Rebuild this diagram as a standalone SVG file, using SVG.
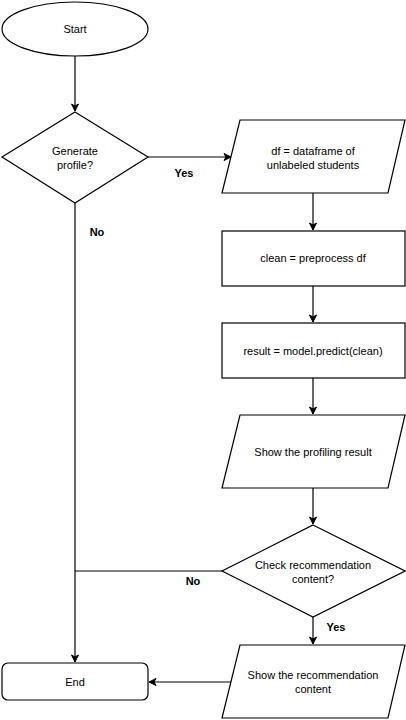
<svg xmlns="http://www.w3.org/2000/svg" width="406" height="720" viewBox="0 0 406 720">
<style>
.s{fill:#fff;stroke:#000;stroke-width:1.2}
.t{font-family:"Liberation Sans",Arial,sans-serif;font-size:11px;fill:#000;text-anchor:middle}
.b{font-family:"Liberation Sans",Arial,sans-serif;font-size:11px;font-weight:bold;fill:#000;text-anchor:middle}
.c{fill:none;stroke:#000;stroke-width:1.2}
</style>
<defs>
<marker id="a" markerWidth="10" markerHeight="10" refX="8" refY="5" orient="auto" markerUnits="userSpaceOnUse">
<path d="M1,1.5 L8,5 L1,8.5 L3,5 Z" fill="#000" stroke="#000" stroke-width="1"/>
</marker>
</defs>
<rect width="406" height="720" fill="#fff"/>
<g id="connectors">
<path class="c" d="M75,56 V111" marker-end="url(#a)"/>
<path class="c" d="M148,157 H231" marker-end="url(#a)"/>
<path class="c" d="M313,193 V230" marker-end="url(#a)"/>
<path class="c" d="M313,286 V322" marker-end="url(#a)"/>
<path class="c" d="M313,378 V414" marker-end="url(#a)"/>
<path class="c" d="M313,488 V524" marker-end="url(#a)"/>
<path class="c" d="M75,203 V662" marker-end="url(#a)"/>
<path class="c" d="M222,571 H75"/>
<path class="c" d="M313,617 V644" marker-end="url(#a)"/>
<path class="c" d="M231,682 H149" marker-end="url(#a)"/>
<text class="b" x="184" y="177">Yes</text>
<text class="b" x="97" y="236">No</text>
<text class="b" x="193" y="585">No</text>
<text class="b" x="336" y="631">Yes</text>
</g>
<g id="start">
<ellipse class="s" cx="75" cy="29" rx="73" ry="27"/>
<text class="t" x="75" y="33">Start</text>
</g>
<g id="generate">
<path class="s" d="M75,112 L148,157 L75,203 L2,157 Z"/>
<text class="t" x="75" y="155">Generate</text>
<text class="t" x="75" y="169">profile?</text>
</g>
<g id="df">
<path class="s" d="M240,120 H405 L388,193 H222 Z"/>
<text class="t" x="313" y="155">df = dataframe of</text>
<text class="t" x="313" y="169">unlabeled students</text>
</g>
<g id="clean">
<rect class="s" x="222" y="231" width="183" height="55"/>
<text class="t" x="313" y="262">clean = preprocess df</text>
</g>
<g id="result">
<rect class="s" x="222" y="323" width="183" height="55"/>
<text class="t" x="313" y="355">result = model.predict(clean)</text>
</g>
<g id="show-profile">
<path class="s" d="M240,415 H405 L388,488 H222 Z"/>
<text class="t" x="313" y="456">Show the profiling result</text>
</g>
<g id="check">
<path class="s" d="M313,525 L405,571 L313,617 L222,571 Z"/>
<text class="t" x="313" y="569">Check recommendation</text>
<text class="t" x="313" y="583">content?</text>
</g>
<g id="show-rec">
<path class="s" d="M240,645 H405 L388,718 H222 Z"/>
<text class="t" x="313" y="679">Show the recommendation</text>
<text class="t" x="313" y="693">content</text>
</g>
<g id="end">
<rect class="s" x="2" y="663" width="146" height="37" rx="6"/>
<text class="t" x="75" y="686">End</text>
</g>
</svg>
